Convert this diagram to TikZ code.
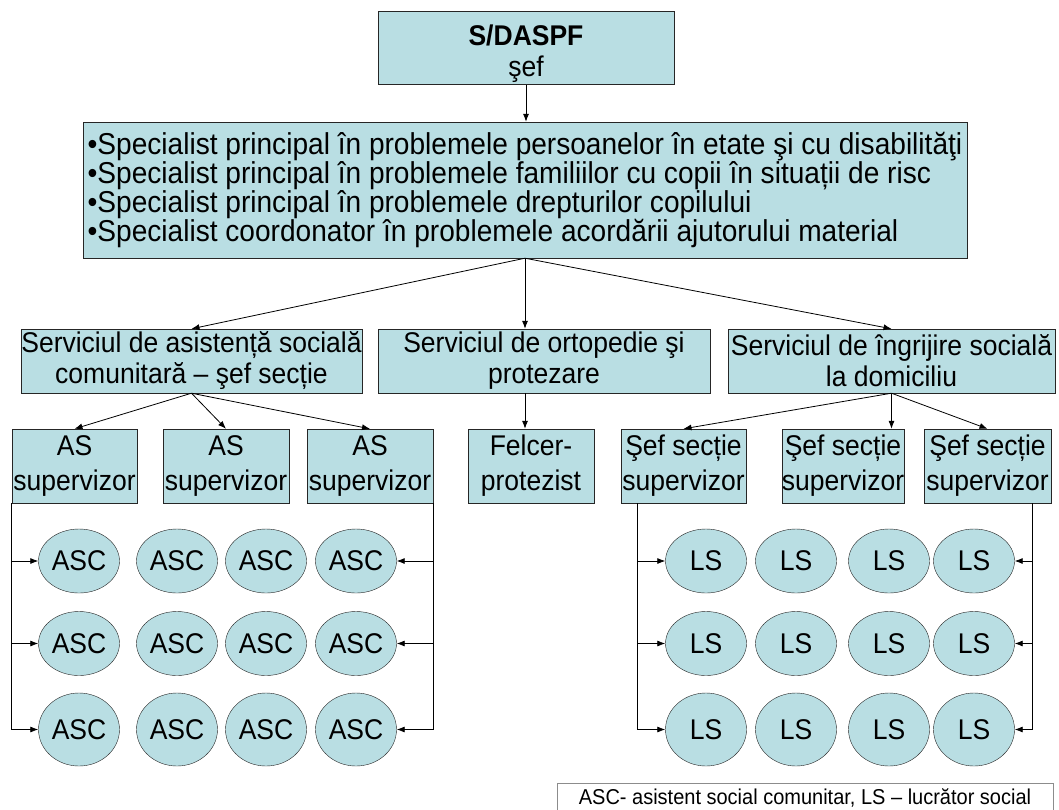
\documentclass[tikz,border=0pt]{standalone}
\usepackage{fontspec}
\setmainfont{Liberation Sans}[FakeStretch=0.93]
\usetikzlibrary{shapes.geometric,arrows.meta}
\definecolor{boxfill}{RGB}{185,222,227}
\tikzset{
    box/.style={draw=black!85, fill=boxfill, inner sep=0pt, align=center,
        font=\fontsize{28.5}{35}\selectfont},
    pers/.style={ellipse, draw=black!85, fill=boxfill, inner sep=0pt,
        minimum width=81pt, font=\fontsize{28.5}{30}\selectfont},
    arr/.style={-{Latex[length=8pt,width=6pt]}, line width=0.8pt},
    link/.style={line width=0.8pt}
}
\begin{document}
\begin{tikzpicture}[x=1pt,y=-1pt]
        \useasboundingbox[fill=white] (0,0) rectangle (1059,809);

        % Draw the head and the specialists
        \node[box, minimum width=296pt, minimum height=73pt, text height=62pt, text depth=6pt, font=\fontsize{28.5}{31}\selectfont] (sef) at (526,48) {\textbf{S/DASPF}\\şef};
        \node[box, align=left, minimum width=884pt, minimum height=136pt, font=\fontsize{30.2}{29}\selectfont] (spec) at (525,190)
            {•Specialist principal în problemele persoanelor în etate şi cu disabilităţi\\
             •Specialist principal în problemele familiilor cu copii în situații de risc\\
             •Specialist principal în problemele drepturilor copilului\\
             •Specialist coordonator în problemele acordării ajutorului material};
        \draw[arr] (sef.south) -- (sef.south |- spec.north);

        % Draw the three services
        \node[box, minimum width=341pt, minimum height=64pt, font=\fontsize{28.5}{31}\selectfont] (sas) at (191.5,361) {Serviciul de asistență socială\\comunitară – şef secție};
        \node[box, minimum width=332pt, minimum height=64pt, font=\fontsize{28.5}{31}\selectfont] (sop) at (544,361) {Serviciul de ortopedie şi\\protezare};
        \node[box, minimum width=327pt, minimum height=64pt, font=\fontsize{28.5}{31}\selectfont] (sis) at (891.5,361) {Serviciul de îngrijire socială\\la domiciliu};
        \draw[arr] (spec.south) -- (sas.north);
        \draw[arr] (spec.south) -- (spec.south |- sop.north);
        \draw[arr] (spec.south) -- (sis.north);

        % Draw the supervisors
        \node[box, minimum width=125pt, minimum height=74pt] (as1) at (74.5,466) {AS\\supervizor};
        \node[box, minimum width=126pt, minimum height=74pt] (as2) at (226,466) {AS\\supervizor};
        \node[box, minimum width=126pt, minimum height=74pt] (as3) at (370,466) {AS\\supervizor};
        \node[box, minimum width=126pt, minimum height=74pt] (felc) at (531,466) {Felcer-\\protezist};
        \node[box, minimum width=125pt, minimum height=74pt] (ss1) at (683.5,466) {Şef secție\\supervizor};
        \node[box, minimum width=122pt, minimum height=74pt] (ss2) at (843,466) {Şef secție\\supervizor};
        \node[box, minimum width=127pt, minimum height=74pt] (ss3) at (987.5,466) {Şef secție\\supervizor};
        \foreach \n in {as1,as2,as3}
            \draw[arr] (sas.south) -- (\n.north);
        \draw[arr] (sop.south -| spec.south) -- (spec.south |- felc.north);
        \draw[arr] (sis.south) -- (ss1.north);
        \draw[arr] (sis.south) -- (sis.south |- ss2.north);
        \draw[arr] (sis.south) -- (ss3.north);

        % Draw the workers
        \foreach \r/\y/\h in {1/561/64, 2/643.5/64, 3/729.5/73} {
            \foreach \c/\x in {1/79, 2/177, 3/266, 4/356}
                \node[pers, minimum height=\h pt] (asc-\r-\c) at (\x,\y) {ASC};
            \foreach \c/\x in {1/706, 2/796, 3/889, 4/974}
                \node[pers, minimum height=\h pt] (ls-\r-\c) at (\x,\y) {LS};
        }

        % Draw the side lines to the workers
        \coordinate (lsl) at ([xshift=17pt]ss1.south west);
        \coordinate (lsr) at ([xshift=-19pt]ss3.south east);
        \draw[link] (as1.south west) -- (as1.south west |- asc-3-1.west);
        \draw[link] (as3.south east) -- (as3.south east |- asc-3-4.east);
        \draw[link] (lsl) -- (lsl |- ls-3-1.west);
        \draw[link] (lsr) -- (lsr |- ls-3-4.east);
        \foreach \r in {1,2,3} {
            \draw[arr] (as1.south west |- asc-\r-1.west) -- (asc-\r-1.west);
            \draw[arr] (as3.south east |- asc-\r-4.east) -- (asc-\r-4.east);
            \draw[arr] (lsl |- ls-\r-1.west) -- (ls-\r-1.west);
            \draw[arr] (lsr |- ls-\r-4.east) -- (ls-\r-4.east);
        }

        % Legend
        \node[draw=black!45, fill=white, inner sep=0pt, minimum width=496pt, minimum height=30pt, font=\fontsize{21.5}{24}\selectfont] (leg) at (805,798) {ASC- asistent social comunitar, LS – lucrător social};
    \end{tikzpicture}
\end{document}
